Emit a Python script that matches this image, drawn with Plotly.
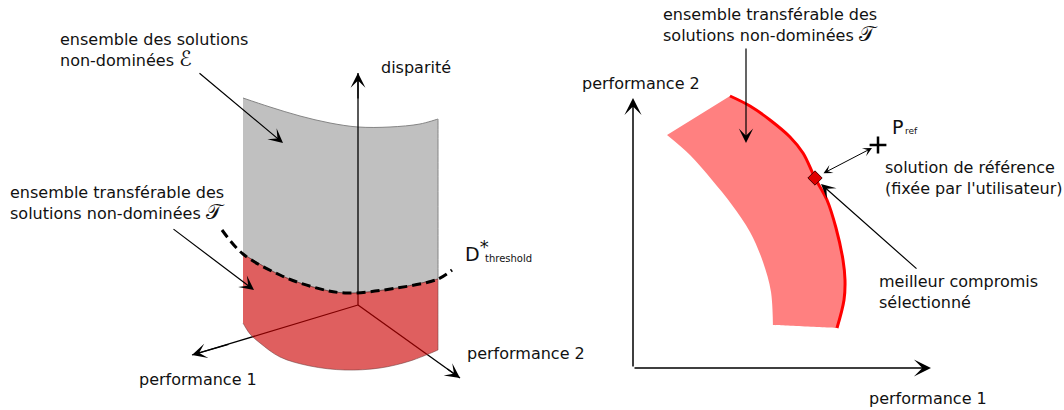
import plotly.graph_objects as go

# left panel: surface of non-dominated solutions (pixel coordinates, y downwards)
surf_top_x = [243, 270, 300, 330, 358, 390, 420, 438]
surf_top_y = [98, 107, 116, 123, 127, 127, 124, 119]
thr_x = [222, 243, 280, 313, 345, 397, 438, 452]
thr_y = [230, 254, 275, 287, 293, 288, 279, 270]
surf_bot_x = [243, 250, 260, 280, 310, 345, 380, 410, 438]
surf_bot_y = [323, 334, 343, 357, 366, 370, 368, 361, 350]
origin = (358, 305)
axis_tips = {'disp': (358, 73), 'p1': (192, 355), 'p2': (460, 378)}

# right panel: transferable front
outer_x = [730, 750, 770, 790, 803, 815, 827, 836, 843, 845, 844, 837]
outer_y = [96, 106, 120, 137, 153, 178, 200, 228, 260, 280, 300, 328]
inner_x = [667, 690, 712, 732, 750, 763, 771, 773]
inner_y = [135, 155, 180, 205, 232, 262, 292, 325]
best = (815, 178)
pref = (878, 145)
r_origin = (633, 368)
r_tips = {'p1': (931, 368), 'p2': (633, 98)}

FONT = 'DejaVu Sans'
fig = go.Figure()

# grey part above the threshold
gx = surf_top_x + [438, 438, 438] + thr_x[1:-1][::-1] + [243]
gy = surf_top_y + [119, 279, 279] + thr_y[1:-1][::-1] + [254]
fig.add_trace(go.Scatter(x=gx, y=gy, fill='toself', fillcolor='#c0c0c0', mode='lines',
                         line=dict(color='#858585', width=1, shape='spline', simplify=False)))

# axes of left panel (drawn under the translucent red)
for k in ['disp', 'p1', 'p2']:
    tx, ty = axis_tips[k]
    fig.add_trace(go.Scatter(x=[origin[0], tx], y=[origin[1], ty], mode='lines',
                             line=dict(color='black', width=1.3)))

# red part under the threshold
rx = [243] + thr_x[1:-1] + [438, 438] + surf_bot_x[::-1] + [243]
ry = [254] + thr_y[1:-1] + [279, 350] + surf_bot_y[::-1] + [323]
fig.add_trace(go.Scatter(x=rx, y=ry, fill='toself', fillcolor='rgba(204,0,0,0.627)', mode='lines',
                         line=dict(color='rgba(110,60,60,0.55)', width=1, shape='spline',
                                   simplify=False)))

fig.add_trace(go.Scatter(x=thr_x, y=thr_y, mode='lines',
                         line=dict(color='black', width=3, dash='9px,5px', shape='spline')))

# right panel band
bx = outer_x + [outer_x[-1]] + [inner_x[-1]] + inner_x[::-1]
by = outer_y + [outer_y[-1]] + [inner_y[-1]] + inner_y[::-1]
fig.add_trace(go.Scatter(x=bx, y=by, fill='toself', fillcolor='#ff8080', mode='lines',
                         line=dict(color='#ff8080', width=0, shape='spline', simplify=False)))
fig.add_trace(go.Scatter(x=outer_x, y=outer_y, mode='lines',
                         line=dict(color='#ff0000', width=3, shape='spline')))
fig.add_trace(go.Scatter(x=[best[0]], y=[best[1]], mode='markers',
                         marker=dict(symbol='diamond', size=11, color='#e00000',
                                     line=dict(color='#500000', width=1))))
fig.add_trace(go.Scatter(x=[pref[0]], y=[pref[1]], mode='markers',
                         marker=dict(symbol='cross-thin', size=12,
                                     line=dict(color='black', width=2.5))))


def arrow(x0, y0, x1, y1, w=1.0, size=2.4, side='end'):
    fig.add_annotation(x=x1, y=y1, ax=x0, ay=y0, xref='x', yref='y', axref='x', ayref='y',
                       showarrow=True, arrowhead=3, arrowsize=size, arrowwidth=w,
                       arrowcolor='black', arrowside=side, text='')


def label(x, y, s, size=16, anchor='left'):
    fig.add_annotation(x=x, y=y, xref='x', yref='y', text=s, showarrow=False,
                       xanchor=anchor, yanchor='middle', align='left',
                       font=dict(family=FONT, size=size, color='#111'))


# arrowheads of the left axes
arrow(358, 100, *axis_tips['disp'], w=1.3, size=1.9)
arrow(230, 344, *axis_tips['p1'], w=1.3, size=1.9)
arrow(446, 368, *axis_tips['p2'], w=1.3, size=1.9)
# pointers
arrow(198, 72, 283, 143, w=1.2, size=2.0)
arrow(172, 228, 254, 290, w=1.2, size=2.0)
arrow(746, 47, 746, 143, w=1.2, size=2.0)
arrow(918, 270, 821, 184, w=1.2, size=2.0)
arrow(822, 174, 872, 148, w=1.0, size=1.5, side='end+start')
# right axes
arrow(*r_origin, *r_tips['p1'], w=1.5, size=1.9)
arrow(*r_origin, *r_tips['p2'], w=1.5, size=1.9)

label(58, 50.5, 'ensemble des solutions<br>non-dominées <span style="font-size:21px">ℰ</span>')
label(379, 67, 'disparité')
label(8, 203, 'ensemble transférable des<br>solutions non-dominées <span style="font-size:21px">𝒯</span>')
label(463, 250, 'D<sup><span style="font-size:18px">*</span></sup>', size=19)
label(483, 258, 'threshold', size=10)
label(137, 379, 'performance 1')
label(465, 353, 'performance 2')

label(661, 25, 'ensemble transférable des<br>solutions non-dominées <span style="font-size:21px">𝒯</span>')
label(580, 83, 'performance 2')
label(890, 127, 'P', size=19)
label(903, 131, 'ref', size=9)
label(883, 178, 'solution de référence<br>(fixée par l\'utilisateur)')
label(877, 292, 'meilleur compromis<br>sélectionné')
label(867, 398, 'performance 1')

fig.update_layout(width=1064, height=410, margin=dict(l=0, r=0, t=0, b=0),
                  paper_bgcolor='white', plot_bgcolor='white', showlegend=False,
                  xaxis=dict(range=[0, 1064], visible=False, fixedrange=True),
                  yaxis=dict(range=[410, 0], visible=False, fixedrange=True))

fig.write_html("out.html", config={'displayModeBar': False},
               post_script="document.body.style.margin='0';")
